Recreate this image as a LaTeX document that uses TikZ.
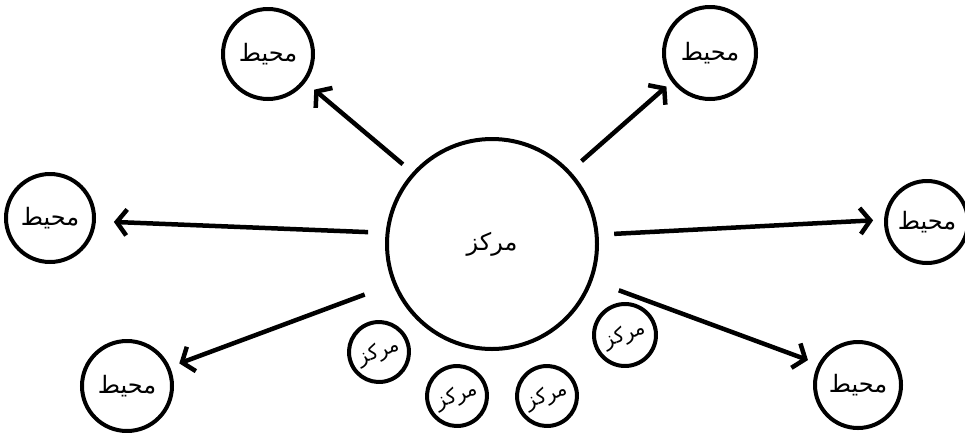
\documentclass[tikz,border=0pt]{standalone}
\usepackage{fontspec}
\newfontfamily\arabicfont[Script=Arabic]{DejaVu Sans}
\TeXXeTstate=1
\usetikzlibrary{arrows.meta}
\tikzset{
  ring/.style={circle, draw, line width=4pt, inner sep=0pt, fill=white},
  bigring/.style={ring, minimum size=210pt},
  outring/.style={ring, minimum size=90pt},
  smallring/.style={ring, minimum size=60pt, rotate=20},
  lbl/.style={font=\arabicfont\fontsize{24}{26}\selectfont},
  slbl/.style={font=\arabicfont\fontsize{20}{22}\selectfont},
  arr/.style={line width=4.5pt, -{Straight Barb[length=10pt, width=26pt, line width=4.5pt]}}
}
\newcommand{\ar}[1]{\beginR #1\endR}
\begin{document}
\begin{tikzpicture}[x=1pt, y=-1pt]
\useasboundingbox (0,0) rectangle (965,432);
\node[bigring, lbl] (c) at (492,244) {\ar{مركز}};
\node[outring, lbl] (tl) at (268,54) {\ar{محيط}};
\node[outring, lbl, minimum size=92pt] (tr) at (710,53) {\ar{محيط}};
\node[outring, lbl, minimum size=88pt] (l) at (50,218) {\ar{محيط}};
\node[outring, lbl, minimum size=82pt] (r) at (927,222) {\ar{محيط}};
\node[outring, lbl] (bl) at (127,386) {\ar{محيط}};
\node[outring, lbl, minimum size=86pt] (br) at (858,385) {\ar{محيط}};
\node[smallring, slbl] (s1) at (379,352) {\ar{مركز}};
\node[smallring, slbl] (s2) at (457,396) {\ar{مركز}};
\node[smallring, slbl] (s3) at (547,396) {\ar{مركز}};
\node[smallring, slbl, minimum size=62pt] (s4) at (625,335) {\ar{مركز}};
\draw[arr, shorten <=12.6pt, shorten >=11.4pt] (c.138.4) -- (tl.-37);
\draw[arr, shorten <=15pt, shorten >=7pt] (c.43) -- (tr.217);
\draw[arr, shorten <=17.5pt, shorten >=18pt] (c.174.8) -- (l.-4.6);
\draw[arr, shorten <=15.6pt, shorten >=11pt] (c.5.7) -- (r.177.8);
\draw[arr, shorten <=30pt, shorten >=10pt] (c.202.2) -- (bl.24.7);
\draw[arr, shorten <=28pt, shorten >=11pt] (c.340.2) -- (br.152.5);
\end{tikzpicture}
\end{document}
